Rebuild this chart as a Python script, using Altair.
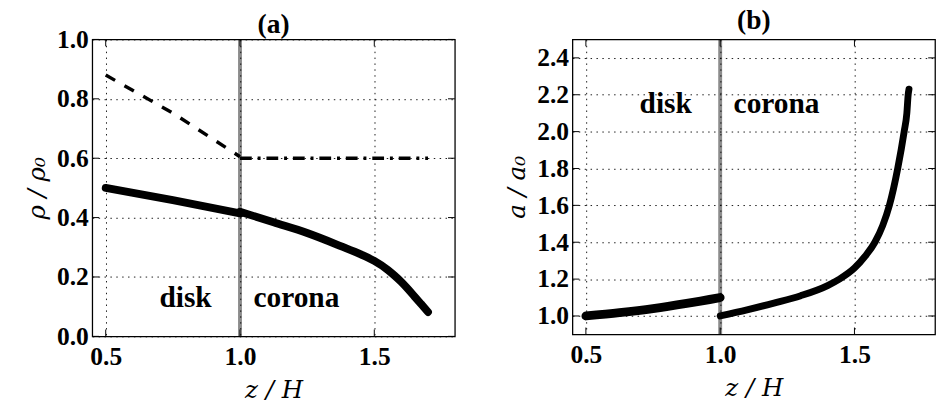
import altair as alt
import pandas as pd

# ---------------- data ----------------
# panel (a)
a_dash_x = [0.5, 0.75, 1.0]
a_dash_y = [0.88, 0.752, 0.605]
a_dashdot_x = [1.0, 1.7]
a_dashdot_y = [0.6, 0.6]
a_disk_x = [0.5, 0.75, 1.0]
a_disk_y = [0.50, 0.459, 0.414]
a_cor_x = [1.0, 1.125, 1.25, 1.375, 1.45, 1.5, 1.55, 1.575, 1.6, 1.625, 1.65, 1.675, 1.7]
a_cor_y = [0.42, 0.384, 0.348, 0.304, 0.276, 0.254, 0.224, 0.205, 0.184, 0.16, 0.134, 0.108, 0.082]

# panel (b)
b_disk_x = [0.5, 0.625, 0.75, 0.875, 1.0]
b_disk_y = [1.0, 1.018, 1.04, 1.068, 1.10]
b_cor_x = [1.0, 1.1, 1.2, 1.3, 1.4, 1.444, 1.5, 1.54, 1.576, 1.605, 1.63, 1.661,
           1.685, 1.695, 1.70, 1.703]
b_cor_y = [1.0, 1.033, 1.07, 1.11, 1.165, 1.2, 1.26, 1.325, 1.40, 1.49, 1.60, 1.80,
           2.00, 2.10, 2.20, 2.23]

x_ticks = [0.5, 1.0, 1.5]
a_y_ticks = [0.0, 0.2, 0.4, 0.6, 0.8, 1.0]
b_y_ticks = [1.0, 1.2, 1.4, 1.6, 1.8, 2.0, 2.2, 2.4]
boundary_x = [1.0]
region_text = ["disk", "corona"]
region_x = [0.7, 1.05]
a_region_y = [0.1, 0.1]
b_region_y = [2.1, 2.1]

# ---------------- style ----------------
BOLD = "Liberation Serif"
ITAL = "DejaVu Serif"
W = 370
X_DOM = [0.45, 1.8]
TICK = 7


def x_axis():
    return alt.Axis(values=x_ticks, format=".1f", grid=True, ticks=False, domain=False,
                    labelPadding=8, labelFlush=False, labelFont=BOLD, labelFontSize=26,
                    labelFontWeight="bold", labelColor="black",
                    title="z / H", titleFont=ITAL, titleFontStyle="italic",
                    titleFontWeight="normal", titleFontSize=25, titleColor="black",
                    titlePadding=8, minExtent=34, maxExtent=34,
                    gridColor="black", gridDash=[1.5, 4.5], gridWidth=1, gridOpacity=0.9)


def y_axis(vals, title):
    return alt.Axis(values=vals, format=".1f", grid=True, ticks=False, domain=False,
                    labelPadding=4, labelFlush=False, labelOverlap=False, labelFont=BOLD,
                    labelFontSize=26, labelFontWeight="bold", labelColor="black",
                    title=title, titleFont=ITAL, titleFontStyle="italic",
                    titleFontWeight="normal", titleFontSize=25, titleColor="black",
                    titlePadding=4, minExtent=40, maxExtent=40,
                    gridColor="black", gridDash=[1.5, 4.5], gridWidth=1, gridOpacity=0.9)


def panel(title, H, y_dom, y_ticks, y_title, layers_fn, region_y, title_offset):
    xs = alt.Scale(domain=X_DOM, nice=False, zero=False)
    ys = alt.Scale(domain=y_dom, nice=False, zero=False)
    X = lambda f: alt.X(f, type="quantitative", scale=xs, axis=x_axis())
    Y = lambda f: alt.Y(f, type="quantitative", scale=ys, axis=y_axis(y_ticks, y_title))

    layers = []
    # boundary (grey band)
    layers.append(alt.Chart(pd.DataFrame({"x": boundary_x})).mark_rule(
        color="black", opacity=0.45, strokeWidth=4).encode(x=X("x")))
    layers += layers_fn(X, Y)
    # region labels
    tdf = pd.DataFrame({"x": region_x, "y": region_y, "t": region_text})
    layers.append(alt.Chart(tdf).mark_text(
        font=BOLD, fontSize=30, fontWeight="bold", color="black", align="left",
        baseline="alphabetic").encode(x=X("x"), y=Y("y"), text="t:N"))
    # inward ticks on all four sides
    xt = pd.DataFrame({"x": x_ticks})
    yt = pd.DataFrame({"y": y_ticks})
    layers.append(alt.Chart(xt).mark_rule(color="black", strokeWidth=1).encode(
        x=X("x"), y=alt.value(0), y2=alt.value(TICK)))
    layers.append(alt.Chart(xt).mark_rule(color="black", strokeWidth=1).encode(
        x=X("x"), y=alt.value(H), y2=alt.value(H - TICK)))
    layers.append(alt.Chart(yt).mark_rule(color="black", strokeWidth=1).encode(
        y=Y("y"), x=alt.value(0), x2=alt.value(TICK)))
    layers.append(alt.Chart(yt).mark_rule(color="black", strokeWidth=1).encode(
        y=Y("y"), x=alt.value(W), x2=alt.value(W - TICK)))
    return alt.layer(*layers).properties(
        width=W, height=H,
        title=alt.TitleParams(title, font=BOLD, fontSize=28, fontWeight="bold",
                              color="black", anchor="middle", offset=title_offset))


def layers_a(X, Y):
    out = []
    d1 = pd.DataFrame({"x": a_dash_x, "y": a_dash_y})
    out.append(alt.Chart(d1).mark_line(color="black", strokeWidth=3.5,
                                       strokeDash=[11, 11]).encode(x=X("x"), y=Y("y")))
    d2 = pd.DataFrame({"x": a_dashdot_x, "y": a_dashdot_y})
    out.append(alt.Chart(d2).mark_line(color="black", strokeWidth=3.5,
                                       strokeDash=[12, 6, 3, 6]).encode(x=X("x"), y=Y("y")))
    s = pd.DataFrame({"x": a_disk_x + a_cor_x, "y": a_disk_y + a_cor_y,
                      "seg": ["disk"] * len(a_disk_x) + ["corona"] * len(a_cor_x)})
    out.append(alt.Chart(s).mark_line(color="black", strokeWidth=8, strokeCap="round",
                                      interpolate="monotone").encode(
        x=X("x"), y=Y("y"), detail="seg:N"))
    return out


def layers_b(X, Y):
    out = []
    d = pd.DataFrame({"x": b_disk_x, "y": b_disk_y})
    out.append(alt.Chart(d).mark_line(color="black", strokeWidth=9, strokeCap="round",
                                      interpolate="monotone").encode(x=X("x"), y=Y("y")))
    c = pd.DataFrame({"x": b_cor_x, "y": b_cor_y})
    out.append(alt.Chart(c).mark_line(color="black", strokeWidth=7, strokeCap="round",
                                      interpolate="monotone").encode(x=X("x"), y=Y("y")))
    return out


pa = panel("(a)", 303, [0.0, 1.0], a_y_ticks, "ρ / ρ₀", layers_a, a_region_y, -12)
pb = panel("(b)", 301, [0.9, 2.5], b_y_ticks, "a / a₀", layers_b, b_region_y, 3)

chart = alt.hconcat(pa, pb, spacing=48).configure_view(
    stroke="black", strokeWidth=1.3).properties(
    padding={"left": 16, "top": -6, "right": 0, "bottom": 0})

chart.save("out.html", embed_options={"renderer": "svg", "actions": False})
